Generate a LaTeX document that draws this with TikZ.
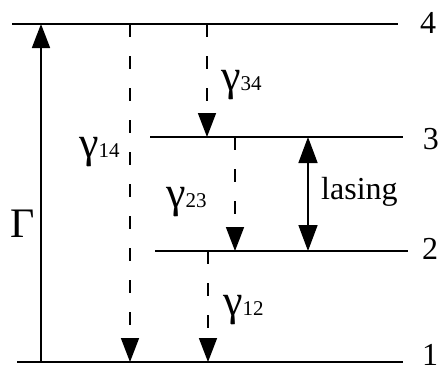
\documentclass[tikz,border=0pt]{standalone}
\usepackage{fontspec}
\setmainfont{Liberation Serif}
\usetikzlibrary{arrows.meta}
\tikzset{
  level/.style={line width=2pt},
  pump/.style={line width=1.6pt,-{Triangle[length=24pt,width=18pt]}},
  decay/.style={line width=1.6pt,dash pattern=on 13pt off 19pt,-{Triangle[length=24pt,width=18pt]}},
  lasearrow/.style={line width=1.6pt,{Triangle[length=26pt,width=19pt]}-{Triangle[length=26pt,width=19pt]}},
  lab/.style={inner sep=0pt,font=\fontsize{32}{36}\selectfont},
  glab/.style={inner sep=0pt,anchor=base west},
}
\newcommand{\gsub}[1]{{\fontsize{44}{46}\selectfont γ}{\fontsize{21}{22}\selectfont #1}}
\begin{document}
\begin{tikzpicture}[x=1pt,y=-1pt]
\useasboundingbox (0,0) rectangle (440,373);
% level end points
\coordinate (L4a) at (12,24);  \coordinate (L4b) at (398,24);
\coordinate (L3a) at (150,137); \coordinate (L3b) at (403,137);
\coordinate (L2a) at (155,251); \coordinate (L2b) at (408,251);
\coordinate (L1a) at (17,362);  \coordinate (L1b) at (403,362);
\draw[level] (L4a) -- (L4b);
\draw[level] (L3a) -- (L3b);
\draw[level] (L2a) -- (L2b);
\draw[level] (L1a) -- (L1b);
\node[lab] (n4) at (428,23) {4};
\node[lab,anchor=east] (n3) at (439,139) {3};
\node[lab] (n2) at (430,249) {2};
\node[lab,anchor=base] (n1) at (430,365) {1};
% arrow end points
\coordinate (G1) at (41,362); \coordinate (G4) at (41,24);
\coordinate (A4) at (130,24); \coordinate (A1) at (130,362);
\coordinate (B4) at (207,24); \coordinate (B3) at (207,137);
\coordinate (C3) at (235,137); \coordinate (C2) at (235,251);
\coordinate (D2) at (208,251); \coordinate (D1) at (208,362);
\coordinate (E3) at (308,137); \coordinate (E2) at (308,251);
\draw[pump] (G1) -- (G4);
\draw[decay] (A4) -- (A1);
\draw[decay] (B4) -- (B3);
\draw[decay] (C3) -- (C2);
\draw[decay] (D2) -- (D1);
\draw[lasearrow] (E3) -- (E2);
\node[inner sep=0pt,font=\fontsize{42}{44}\selectfont] (Gam) at (23,224) {Γ};
\node[glab] (g14) at (79,157) {\gsub{14}};
\node[glab] (g34) at (221,90) {\gsub{34}};
\node[glab] (g23) at (166,207) {\gsub{23}};
\node[glab] (g12) at (223,315) {\gsub{12}};
\node[lab,anchor=base west] (las) at (321,199) {lasing};
\end{tikzpicture}
\end{document}
